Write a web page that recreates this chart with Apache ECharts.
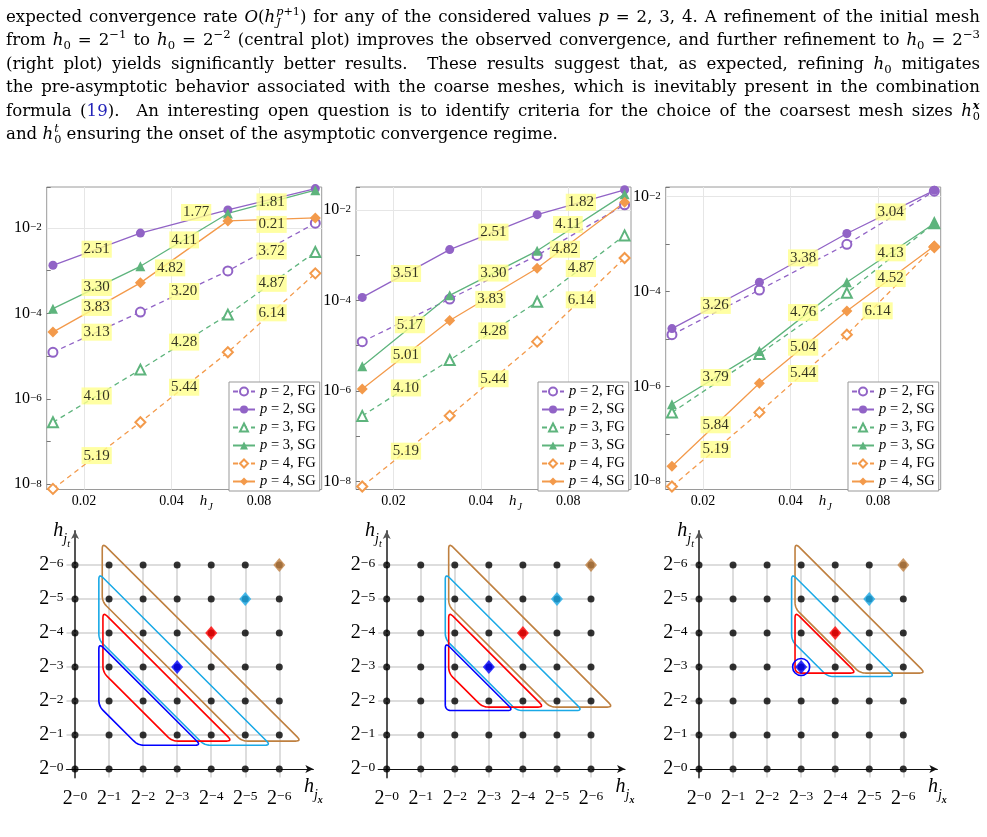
<!DOCTYPE html>
<html>
<head>
<meta charset="utf-8">
<script src="https://cdn.jsdelivr.net/npm/echarts@6/dist/echarts.min.js"></script>
<style>
html, body { margin: 0; padding: 0; background: #fff; }
#chart { position: absolute; left: 0; top: 0; width: 987px; height: 837px; }
#text { position: absolute; left: 6px; top: 5px; width: 974px; z-index: 2;
  font-family: 'DejaVu Serif', serif; font-size: 16.6px; color: #000; }
#text .ln { height: 23.4px; line-height: 23.4px; text-align: justify; text-align-last: justify; }
#text .ln.last { text-align: left; text-align-last: left; }
#text sup, #text sub { font-size: 70%; line-height: 0; }
#text .st { display: inline-block; vertical-align: -0.35em; font-size: 0.68em; line-height: 0.95em; margin-left: 1px; text-align: left; text-align-last: left; }
#text .st span { display: block; }
#text .ref { color: #2424b8; }
</style>
</head>
<body>
<div id="text">
  <div class="ln">expected convergence rate <i>O</i>(<i>h</i><span class="st"><span><i>p</i>+1</span><span><i>J</i></span></span>) for any of the considered values <i>p</i> = 2, 3, 4. A refinement of the initial mesh</div>
  <div class="ln">from <i>h</i><sub>0</sub> = 2<sup>−1</sup> to <i>h</i><sub>0</sub> = 2<sup>−2</sup> (central plot) improves the observed convergence, and further refinement to <i>h</i><sub>0</sub> = 2<sup>−3</sup></div>
  <div class="ln">(right plot) yields significantly better results.&nbsp; These results suggest that, as expected, refining <i>h</i><sub>0</sub> mitigates</div>
  <div class="ln">the pre-asymptotic behavior associated with the coarse meshes, which is inevitably present in the combination</div>
  <div class="ln">formula (<span class="ref">19</span>).&nbsp; An interesting open question is to identify criteria for the choice of the coarsest mesh sizes <i>h</i><span class="st"><span><b><i>x</i></b></span><span>0</span></span></div>
  <div class="ln last">and <i>h</i><span class="st"><span><i>t</i></span><span>0</span></span> ensuring the onset of the asymptotic convergence regime.</div>
</div>
<div id="chart"></div>
<script>
/*
 * 收敛图 + 组合网格示意图
 */

// 网格尺寸 h_J
var hJ = [0.015625, 0.03125, 0.0625, 0.125];

// 全网格 (FG) 误差，三幅图相同
var fgP2 = [1.23e-5, 1.076e-4, 9.89e-4, 1.30e-2];
var fgP3 = [2.82e-7, 4.83e-6, 9.38e-5, 2.74e-3];
var fgP4 = [7.76e-9, 2.83e-7, 1.23e-5, 8.67e-4];

// 稀疏网格 (SG) 误差, h0 = 2^-1
var sgA2 = [1.34e-3, 7.62e-3, 2.66e-2, 8.38e-2];
var sgA3 = [1.29e-4, 1.27e-3, 2.19e-2, 7.69e-2];
var sgA4 = [3.66e-5, 5.20e-4, 1.47e-2, 1.72e-2];
// h0 = 2^-2
var sgB2 = [1.17e-4, 1.33e-3, 7.85e-3, 2.79e-2];
var sgB3 = [3.54e-6, 1.30e-4, 1.25e-3, 2.23e-2];
var sgB4 = [1.11e-6, 3.60e-5, 5.15e-4, 1.48e-2];
// h0 = 2^-3
var sgC2 = [1.65e-5, 1.57e-4, 1.67e-3, 1.36e-2];
var sgC3 = [4.21e-7, 5.60e-6, 1.57e-4, 2.72e-3];
var sgC4 = [2.07e-8, 1.16e-6, 3.87e-5, 9.10e-4];

// 收敛阶标签 (null = 不显示)
var ratesA = [[3.13, 3.20, 3.72], [2.51, 1.77, null], [4.10, 4.28, 4.87], [3.30, 4.11, 1.81], [5.19, 5.44, 6.14], [3.83, 4.82, 0.21]];
var ratesB = [[null, null, null], [3.51, 2.51, 1.82], [4.10, 4.28, 4.87], [5.17, 3.30, 4.11], [5.19, 5.44, 6.14], [5.01, 3.83, 4.82]];
var ratesC = [[null, null, null], [3.26, 3.38, 3.04], [null, null, null], [3.79, 4.76, 4.13], [5.19, 5.44, 6.14], [5.84, 5.04, 4.52]];

var seriesNames = ['p = 2, FG', 'p = 2, SG', 'p = 3, FG', 'p = 3, SG', 'p = 4, FG', 'p = 4, SG'];
var xTicks = [0.02, 0.04, 0.08];
var yGridDecades = [1e-8, 1e-6, 1e-4, 1e-2];

// 组合网格示意图
var levels = [0, 1, 2, 3, 4, 5, 6];
var diamonds = [[3, 3], [4, 4], [5, 5], [6, 6]];
var shapesA = [
  [[0.8, 6.65], [0.8, 4.92], [4.9, 0.82], [6.65, 0.82]],
  [[0.7, 5.75], [0.7, 3.8], [3.8, 0.7], [5.75, 0.7]],
  [[0.82, 4.62], [0.82, 2.85], [2.85, 0.82], [4.62, 0.82]],
  [[0.7, 3.7], [0.7, 1.85], [1.85, 0.7], [3.7, 0.7]]
];
var shapesB = [
  [[1.82, 6.65], [1.82, 4.8], [4.8, 1.82], [6.65, 1.82]],
  [[1.72, 5.75], [1.72, 3.82], [3.82, 1.72], [5.75, 1.72]],
  [[1.82, 4.62], [1.82, 2.82], [2.82, 1.82], [4.62, 1.82]],
  [[1.72, 3.72], [1.72, 1.72], [3.72, 1.72]]
];
var shapesC = [
  [[2.82, 6.65], [2.82, 4.73], [4.73, 2.82], [6.65, 2.82]],
  [[2.72, 5.75], [2.72, 3.78], [3.78, 2.72], [5.75, 2.72]],
  [[2.82, 4.62], [2.82, 2.82], [4.62, 2.82]],
  [[3, 3]]
];

// 样式
var purple = '#9163c6', green = '#5eb47d', orange = '#f39a4b';
var seriesColors = [purple, purple, green, green, orange, orange];
var seriesSymbols = ['emptyCircle', 'circle', 'emptyTriangle', 'triangle', 'emptyDiamond', 'diamond'];
var seriesSizes = [9, 9, 10, 10, 10, 11];
var shapeColors = ['#bf8040', '#1aa9e6', '#ff0000', '#0000ff'];
var diamondColors = ['#0000ff', '#ff0000', '#1aa9e6', '#bf8040'];
var serif = 'Liberation Serif';

var plots = [
  { values: [fgP2, sgA2, fgP3, sgA3, fgP4, sgA4], rates: ratesA, yMin: 7.52e-9, yMax: 9.14e-2, left: 46.7, legendLeft: 229 },
  { values: [fgP2, sgB2, fgP3, sgB3, fgP4, sgB4], rates: ratesB, yMin: 6.67e-9, yMax: 3.21e-2, left: 356, legendLeft: 538 },
  { values: [fgP2, sgC2, fgP3, sgC3, fgP4, sgC4], rates: ratesC, yMin: 6.70e-9, yMax: 1.596e-2, left: 665.7, legendLeft: 848 }
];
var lattices = [
  { shapes: shapesA, left: 66.5 },
  { shapes: shapesB, left: 378.2 },
  { shapes: shapesC, left: 690.5 }
];

// 标签微调 (像素)
var labelNudges = {
  '0-1-1': [12, -9], '0-5-1': [-14, 16], '0-5-2': [0, 5], '0-0-2': [0, 4],
  '1-3-0': [4, -6], '1-5-1': [-3, 5], '1-3-2': [-13, 2], '1-5-2': [-16, 14],
  '2-3-1': [0, -4], '2-4-2': [-13, 20]
};

function decadeLabel(v) {
  var e = Math.log10(v);
  var r = Math.round(e);
  if (Math.abs(e - r) > 1e-6 || r % 2 !== 0) return '';
  return '{b|10}{s|−' + (-r) + '}';
}

function latticeLabel(v) {
  if (v < 0 || v > 6 || Math.round(v) !== v) return '';
  return '{b|2}{s|−' + v + '}';
}

function rateLabels(k) {
  var pl = plots[k];
  var out = [];
  for (var s = 0; s < 6; s++) {
    var ys = pl.values[s], rs = pl.rates[s];
    for (var g = 0; g < 3; g++) {
      if (rs[g] == null) continue;
      var nud = labelNudges[k + '-' + s + '-' + g] || [0, 0];
      out.push({
        value: [Math.sqrt(hJ[g] * hJ[g + 1]), Math.sqrt(ys[g] * ys[g + 1]), rs[g]],
        label: { offset: nud }
      });
    }
  }
  return out;
}

function roundedPoints(pix, r) {
  var out = [];
  var n = pix.length;
  for (var i = 0; i < n; i++) {
    var p = pix[i], a = pix[(i - 1 + n) % n], b = pix[(i + 1) % n];
    var la = Math.hypot(a[0] - p[0], a[1] - p[1]);
    var lb = Math.hypot(b[0] - p[0], b[1] - p[1]);
    var d1 = Math.min(r, la / 2), d2 = Math.min(r, lb / 2);
    var p1 = [p[0] + (a[0] - p[0]) * d1 / la, p[1] + (a[1] - p[1]) * d1 / la];
    var p2 = [p[0] + (b[0] - p[0]) * d2 / lb, p[1] + (b[1] - p[1]) * d2 / lb];
    for (var t = 0; t <= 1.0001; t += 0.125) {
      var u = 1 - t;
      out.push([u * u * p1[0] + 2 * u * t * p[0] + t * t * p2[0],
                u * u * p1[1] + 2 * u * t * p[1] + t * t * p2[1]]);
    }
  }
  return out;
}

var grids = [], xAxes = [], yAxes = [], series = [], legends = [];

// 上排：收敛图
plots.forEach(function (pl, k) {
  grids.push({ left: pl.left, top: 187, width: 275, height: 302.5, show: true,
    borderColor: '#9a9a9a', borderWidth: 1, backgroundColor: 'transparent' });
  xAxes.push({
    gridIndex: k, type: 'log', logBase: 10, min: 0.01487, max: 0.1315,
    axisLine: { show: false }, axisTick: { show: false }, axisLabel: { show: false },
    splitLine: { show: false },
    name: '{h|h}{s|J}', nameLocation: 'middle', nameGap: 4,
    nameTextStyle: {
      padding: [0, 0, 0, 44],
      rich: {
        h: { fontFamily: serif, fontSize: 15, fontStyle: 'italic', lineHeight: 15, verticalAlign: 'top', color: '#000' },
        s: { fontFamily: serif, fontSize: 10, fontStyle: 'italic', lineHeight: 10, padding: [9, 0, 0, 1], verticalAlign: 'top', color: '#000' }
      }
    }
  });
  yAxes.push({
    gridIndex: k, type: 'log', logBase: 10, min: pl.yMin, max: pl.yMax, splitNumber: 7,
    axisLine: { show: false },
    axisTick: { show: true, inside: true, length: 4, lineStyle: { color: '#777' } },
    splitLine: { show: false },
    axisLabel: {
      margin: 5, formatter: decadeLabel, color: '#000',
      rich: {
        b: { fontFamily: serif, fontSize: 16, lineHeight: 16, verticalAlign: 'middle', color: '#000' },
        s: { fontFamily: serif, fontSize: 11, lineHeight: 11, padding: [2, 0, 13, 0], verticalAlign: 'top', color: '#000' }
      }
    }
  });
  var gridMarks = xTicks.map(function (t) { return { xAxis: t, name: String(t) }; });
  yGridDecades.forEach(function (d) {
    if (d > pl.yMin && d < pl.yMax) gridMarks.push({ yAxis: d, label: { show: false } });
  });
  pl.values.forEach(function (vals, s) {
    var ser = {
      type: 'line', name: seriesNames[s], xAxisIndex: k, yAxisIndex: k,
      data: hJ.map(function (x, i) { return [x, vals[i]]; }),
      symbol: seriesSymbols[s], symbolSize: seriesSizes[s], showSymbol: true,
      color: seriesColors[s],
      lineStyle: { color: seriesColors[s], width: 1.3, type: s % 2 === 0 ? [5, 4] : 'solid' },
      itemStyle: { color: seriesColors[s], borderWidth: 1.2 },
      z: 3, animation: false, silent: true
    };
    if (s === 0) {
      ser.markLine = {
        z: 1, silent: true, symbol: 'none', animation: false,
        lineStyle: { color: '#e6e6e6', width: 1, type: 'solid' },
        label: { show: true, position: 'start', distance: 5, formatter: '{b}',
          fontFamily: serif, fontSize: 14, color: '#000' },
        emphasis: { disabled: true },
        data: gridMarks
      };
    }
    series.push(ser);
  });
  series.push({
    type: 'scatter', xAxisIndex: k, yAxisIndex: k, data: rateLabels(k),
    symbolSize: 1, itemStyle: { color: 'rgba(0,0,0,0)' }, z: 6, silent: true, animation: false,
    label: {
      show: true, position: 'inside', color: '#000',
      fontFamily: serif, fontSize: 15, lineHeight: 15,
      backgroundColor: '#ffff8c', padding: [1, 2, 1, 2],
      formatter: function (p) { return p.value[2].toFixed(2); }
    }
  });
  legends.push({
    left: pl.legendLeft, top: 382, orient: 'vertical', data: seriesNames,
    itemWidth: 22, itemHeight: 10, itemGap: 3, padding: [2, 4, 2, 3],
    backgroundColor: '#fff', borderColor: '#999', borderWidth: 1, selectedMode: false, z: 10,
    formatter: function (name) { return '{i|p}{n|' + name.slice(1) + '}'; },
    textStyle: {
      fontFamily: serif, fontSize: 14.5, color: '#000',
      rich: {
        i: { fontFamily: serif, fontSize: 14.5, fontStyle: 'italic', color: '#000' },
        n: { fontFamily: serif, fontSize: 14.5, color: '#000' }
      }
    }
  });
});

// 下排：组合网格
var latRich = {
  b: { fontFamily: serif, fontSize: 20, lineHeight: 20, verticalAlign: 'bottom', color: '#000' },
  s: { fontFamily: serif, fontSize: 13.5, lineHeight: 13, padding: [1, 0, 10, 0], verticalAlign: 'top', color: '#000' }
};
lattices.forEach(function (lt, k) {
  var gi = 3 + k;
  grids.push({ left: lt.left, top: 531, width: 246.85, height: 246.5 });
  xAxes.push({
    gridIndex: gi, type: 'value', min: -0.25, max: 7, interval: 0.25,
    axisLine: { show: true, onZero: true, symbol: ['none', 'arrow'], symbolSize: [6, 8],
      lineStyle: { color: '#111', width: 1.2 } },
    axisTick: { show: false }, splitLine: { show: false },
    axisLabel: { interval: 0, margin: 11, formatter: latticeLabel, rich: latRich },
    name: '{h|h}{j|j}{x|x}', nameLocation: 'end', nameGap: 0,
    nameTextStyle: {
      align: 'center', verticalAlign: 'top', padding: [8, 0, 0, 0],
      rich: {
        h: { fontFamily: serif, fontSize: 20, fontStyle: 'italic', lineHeight: 20, verticalAlign: 'top', color: '#000' },
        j: { fontFamily: serif, fontSize: 14, fontStyle: 'italic', lineHeight: 14, padding: [11, 0, 0, 0], verticalAlign: 'top', color: '#000' },
        x: { fontFamily: serif, fontSize: 10, fontStyle: 'italic', fontWeight: 'bold', lineHeight: 10, padding: [18, 0, 0, 0], verticalAlign: 'top', color: '#000' }
      }
    }
  });
  yAxes.push({
    gridIndex: gi, type: 'value', min: -0.25, max: 7, interval: 0.25,
    axisLine: { show: true, onZero: true, symbol: ['none', 'arrow'], symbolSize: [6, 8],
      lineStyle: { color: '#555', width: 2 } },
    axisTick: { show: false }, splitLine: { show: false },
    axisLabel: { interval: 0, margin: 3, formatter: latticeLabel, rich: latRich },
    name: '{h|h}{j|j}{t|t}', nameLocation: 'end', nameGap: 0,
    nameTextStyle: {
      align: 'right', verticalAlign: 'middle', padding: [0, 5, 0, 0],
      rich: {
        h: { fontFamily: serif, fontSize: 20, fontStyle: 'italic', lineHeight: 20, verticalAlign: 'top', color: '#000' },
        j: { fontFamily: serif, fontSize: 14, fontStyle: 'italic', lineHeight: 14, padding: [11, 0, 0, 0], verticalAlign: 'top', color: '#000' },
        t: { fontFamily: serif, fontSize: 10, fontStyle: 'italic', lineHeight: 10, padding: [18, 0, 0, 0], verticalAlign: 'top', color: '#000' }
      }
    }
  });
  // 网格线
  var gl = [];
  levels.forEach(function (i) {
    if (i === 0) return;
    gl.push({ coords: [[i, -0.25], [i, 6]] });
    gl.push({ coords: [[-0.25, i], [6, i]] });
  });
  series.push({
    type: 'lines', coordinateSystem: 'cartesian2d', xAxisIndex: gi, yAxisIndex: gi,
    data: gl, silent: true, animation: false, z: 1,
    lineStyle: { color: '#d2d2d2', width: 1.5, opacity: 1, curveness: 0 }
  });
  // 组合区域
  series.push({
    type: 'custom', xAxisIndex: gi, yAxisIndex: gi, silent: true, animation: false, z: 2,
    data: lt.shapes.map(function (pts) { return pts[0]; }),
    renderItem: function (params, api) {
      var pts = lt.shapes[params.dataIndex];
      var col = shapeColors[params.dataIndex];
      if (pts.length === 1) {
        var c = api.coord(pts[0]);
        var r = api.size([0.25, 0])[0];
        return { type: 'circle', shape: { cx: c[0], cy: c[1], r: r },
          style: { fill: 'none', stroke: col, lineWidth: 1.6 } };
      }
      var pix = pts.map(function (q) { return api.coord(q); });
      return { type: 'polygon', shape: { points: roundedPoints(pix, 6) },
        style: { fill: 'none', stroke: col, lineWidth: 1.6 } };
    }
  });
  // 网格点
  var dots = [];
  levels.forEach(function (i) { levels.forEach(function (j) { dots.push([i, j]); }); });
  series.push({
    type: 'scatter', xAxisIndex: gi, yAxisIndex: gi, data: dots,
    symbol: 'circle', symbolSize: 7, itemStyle: { color: '#000' }, z: 3, silent: true, animation: false
  });
  series.push({
    type: 'scatter', xAxisIndex: gi, yAxisIndex: gi,
    data: diamonds.map(function (d, n) { return { value: d, itemStyle: { color: diamondColors[n] } }; }),
    symbol: 'diamond', symbolSize: [12, 14], z: 4, silent: true, animation: false
  });
});

var option = {
  backgroundColor: 'transparent',
  animation: false,
  textStyle: { fontFamily: serif },
  grid: grids,
  xAxis: xAxes,
  yAxis: yAxes,
  legend: legends,
  series: series
};

var myChart = echarts.init(document.getElementById('chart'));
myChart.setOption(option);
</script>
</body>
</html>
